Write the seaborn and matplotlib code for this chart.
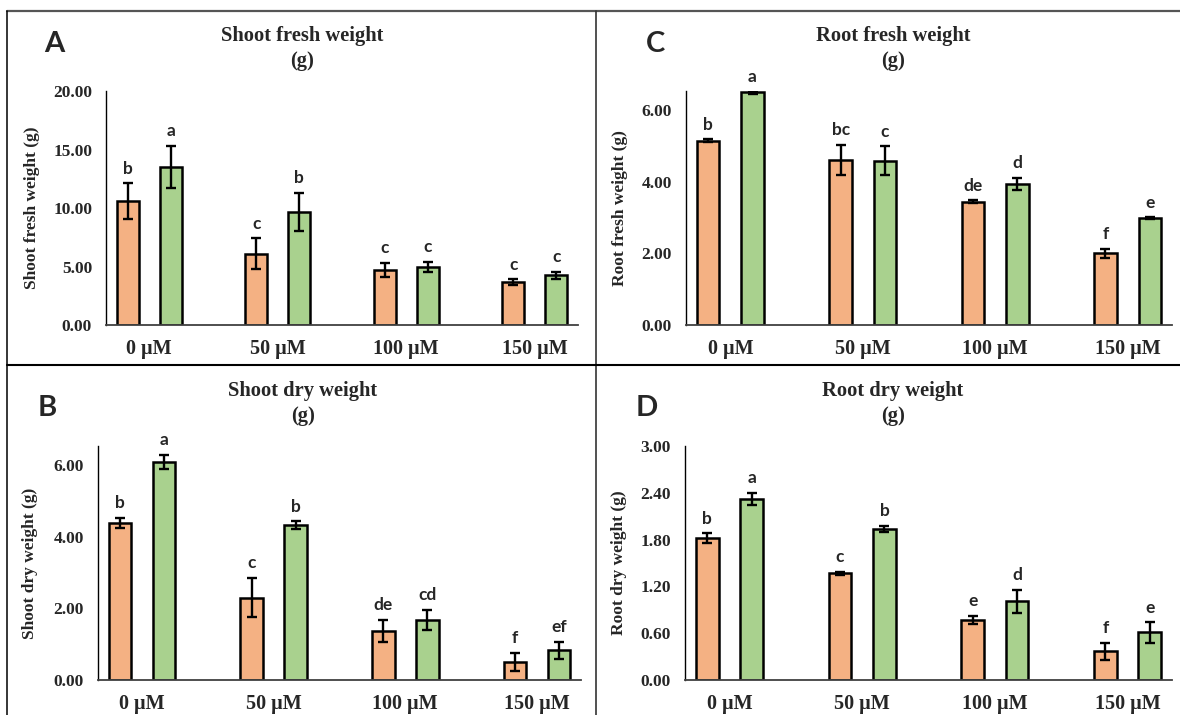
import pandas as pd
import matplotlib
matplotlib.use('Agg')
import matplotlib.pyplot as plt
from matplotlib.lines import Line2D
import seaborn as sns

# Values
concentrations = ['0 µM', '50 µM', '100 µM', '150 µM']
treatments = ['T1', 'T2']

shoot_fresh_t1 = [10.6, 6.1, 4.7, 3.65]
shoot_fresh_t2 = [13.5, 9.65, 4.97, 4.25]
shoot_fresh_err_t1 = [1.5, 1.3, 0.6, 0.25]
shoot_fresh_err_t2 = [1.8, 1.65, 0.45, 0.3]
shoot_fresh_letters_t1 = ['b', 'c', 'c', 'c']
shoot_fresh_letters_t2 = ['a', 'b', 'c', 'c']

root_fresh_t1 = [5.15, 4.61, 3.45, 2.0]
root_fresh_t2 = [6.5, 4.59, 3.94, 2.98]
root_fresh_err_t1 = [0.04, 0.43, 0.03, 0.12]
root_fresh_err_t2 = [0.03, 0.4, 0.17, 0.03]
root_fresh_letters_t1 = ['b', 'bc', 'de', 'f']
root_fresh_letters_t2 = ['a', 'c', 'd', 'e']

shoot_dry_t1 = [4.39, 2.3, 1.37, 0.5]
shoot_dry_t2 = [6.1, 4.33, 1.69, 0.83]
shoot_dry_err_t1 = [0.15, 0.55, 0.31, 0.25]
shoot_dry_err_t2 = [0.19, 0.1, 0.28, 0.23]
shoot_dry_letters_t1 = ['b', 'c', 'de', 'f']
shoot_dry_letters_t2 = ['a', 'b', 'cd', 'ef']

root_dry_t1 = [1.82, 1.37, 0.77, 0.37]
root_dry_t2 = [2.32, 1.94, 1.01, 0.61]
root_dry_err_t1 = [0.06, 0.02, 0.055, 0.11]
root_dry_err_t2 = [0.075, 0.04, 0.15, 0.13]
root_dry_letters_t1 = ['b', 'c', 'e', 'f']
root_dry_letters_t2 = ['a', 'b', 'd', 'e']

colors = ['#F4B183', '#A9D18E']
W, H = 1180, 715

sns.set_style('white')
plt.rcParams['font.family'] = ['Liberation Serif', 'DejaVu Serif']
SANS = ['Lato', 'DejaVu Sans']


def panel(fig, rect, t1, t2, e1, e2, l1, l2, ylim, yticks, ylabel, ylabel_x):
    left, top, right, bottom = rect
    ax = fig.add_axes([left / W, 1 - bottom / H, (right - left) / W, (bottom - top) / H])
    df = pd.DataFrame({
        'conc': concentrations * 2,
        'treat': [treatments[0]] * 4 + [treatments[1]] * 4,
        'value': t1 + t2,
    })
    sns.barplot(data=df, x='conc', y='value', hue='treat', order=concentrations,
                hue_order=treatments, palette=colors, saturation=1, width=0.67, gap=0.49,
                edgecolor='black', linewidth=1.8, errorbar=None, legend=False, ax=ax)
    for cont, vals, errs, letters in zip(ax.containers, [t1, t2], [e1, e2], [l1, l2]):
        xs = [p.get_x() + p.get_width() / 2 for p in cont.patches]
        ax.errorbar(xs, vals, yerr=errs, fmt='none', ecolor='black',
                    elinewidth=1.7, capsize=3.5, capthick=1.7, zorder=5)
        for x, v, e, s in zip(xs, vals, errs, letters):
            ax.annotate(s, (x, v + e), xytext=(0, 7), textcoords='offset points',
                        ha='center', va='baseline', fontsize=12.5, fontweight='bold',
                        family=SANS, annotation_clip=False)
    ax.set_xlim(-0.335, 3.335)
    ax.set_ylim(*ylim)
    ax.set_yticks(yticks)
    ax.set_yticklabels([f'{v:.2f}' for v in yticks])
    ax.tick_params(axis='y', length=0, pad=10, labelsize=12.5)
    ax.tick_params(axis='x', length=0, pad=10, labelsize=14.5)
    for lab in ax.get_xticklabels() + ax.get_yticklabels():
        lab.set_fontweight('bold')
    ax.set_xlabel('')
    ax.set_ylabel(ylabel, fontsize=12.5, fontweight='bold')
    ax.yaxis.set_label_coords(ylabel_x, 0.5)
    sns.despine(ax=ax)
    ax.spines['left'].set_color('black')
    ax.spines['left'].set_linewidth(1.0)
    ax.spines['bottom'].set_color('#404040')
    ax.spines['bottom'].set_linewidth(1.3)
    ax.patch.set_alpha(0)
    return ax


fig = plt.figure(figsize=(W / 100, H / 100), dpi=100)

panel(fig, (106, 91, 578, 325), shoot_fresh_t1, shoot_fresh_t2, shoot_fresh_err_t1,
      shoot_fresh_err_t2, shoot_fresh_letters_t1, shoot_fresh_letters_t2,
      (0, 20), [0, 5, 10, 15, 20], 'Shoot fresh weight (g)', -0.14)
panel(fig, (686, 91, 1172, 325), root_fresh_t1, root_fresh_t2, root_fresh_err_t1,
      root_fresh_err_t2, root_fresh_letters_t1, root_fresh_letters_t2,
      (0, 6.54), [0, 2, 4, 6], 'Root fresh weight (g)', -0.12)
panel(fig, (98, 446, 581, 680), shoot_dry_t1, shoot_dry_t2, shoot_dry_err_t1,
      shoot_dry_err_t2, shoot_dry_letters_t1, shoot_dry_letters_t2,
      (0, 6.54), [0, 2, 4, 6], 'Shoot dry weight (g)', -0.124)
panel(fig, (685, 446, 1172, 680), root_dry_t1, root_dry_t2, root_dry_err_t1,
      root_dry_err_t2, root_dry_letters_t1, root_dry_letters_t2,
      (0, 3.0), [0, 0.6, 1.2, 1.8, 2.4, 3.0], 'Root dry weight (g)', -0.119)

# panel titles and letters
titles = [('Shoot fresh weight', 302, 36, 'A', 44, 44),
          ('Root fresh weight', 893, 36, 'C', 646, 44),
          ('Shoot dry weight', 303, 391, 'B', 38, 408),
          ('Root dry weight', 893, 391, 'D', 636, 408)]
for name, tx, ty, letter, lx, ly in titles:
    fig.text(tx / W, 1 - ty / H, name, ha='center', va='center', fontsize=14.8, fontweight='bold')
    fig.text(tx / W, 1 - (ty + 25) / H, '(g)', ha='center', va='center', fontsize=14.8, fontweight='bold')
    fig.text(lx / W, 1 - ly / H, letter, ha='left', va='center', fontsize=21,
             fontweight='bold', family=SANS)

# panel frame lines
fig.add_artist(Line2D([7 / W, 1], [1 - 11 / H] * 2, color='#555555', lw=1.6))
fig.add_artist(Line2D([7 / W] * 2, [0, 1 - 11 / H], color='black', lw=1.1))
fig.add_artist(Line2D([595.5 / W] * 2, [0, 1 - 11 / H], color='#333333', lw=1.2))
fig.add_artist(Line2D([7 / W, 1], [1 - 364.7 / H] * 2, color='black', lw=1.5))

fig.savefig('out.png', dpi=100)
